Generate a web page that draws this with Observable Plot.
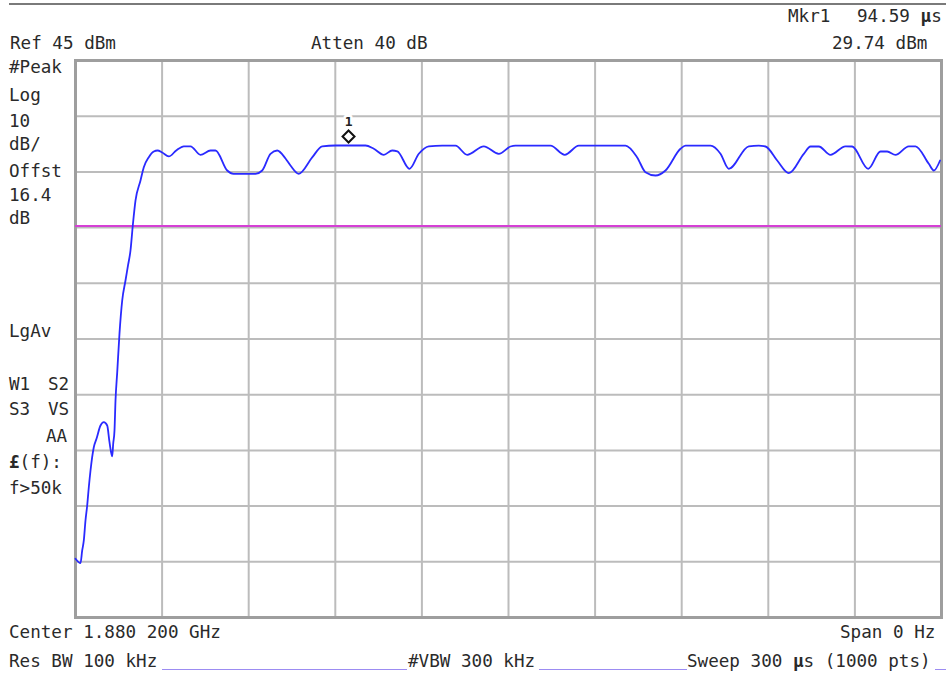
<!DOCTYPE html>
<html>
<head>
<meta charset="utf-8">
<script src="https://cdn.jsdelivr.net/npm/d3@7"></script>
<script src="https://cdn.jsdelivr.net/npm/@observablehq/plot@0.6"></script>
<style>
  html, body { margin: 0; padding: 0; background: #fff; }
  #screen { position: relative; width: 946px; height: 677px; overflow: hidden; background: #fff; }
  #screen svg { position: absolute; left: 0; top: 0; }
  .lbl { position: absolute; font-family: "DejaVu Sans Mono", monospace; font-size: 17.6px;
         line-height: 17.6px; color: #2a2a2a; white-space: pre; }
  .rule { position: absolute; height: 0; border-top: 1.5px solid #9c8cf2; }
  .topline { position: absolute; left: 9px; right: 0; top: 3px; height: 0; border-top: 2px solid #7a7a7a; }
</style>
</head>
<body>
<div id="screen"></div>
<script>
// Zero-span sweep: time (μs) against detected level (dBm)
const timeUs = [
  0, 1.73, 2.32, 2.88, 3.46, 4.05, 4.61, 5.20, 6.34, 7.27, 8.66, 9.80, 10.98, 11.78, 12.71,
  13.06, 13.51, 13.86, 14.45, 15.24, 16.18, 17.32, 18.19, 19.05, 19.85, 20.79, 22.52, 23.66,
  25.39, 27.12, 28.41, 30.03, 32.32, 35.0, 37.52, 39.84, 43.30, 46.77, 48.50, 52.55, 54.73,
  62.36, 64.68, 67.55, 69.87, 72.75, 74.48, 77.35, 82.00, 85.46, 90.07, 94.59, 100.46, 103.34,
  106.80, 109.71, 111.5, 115.71, 118.93, 122.39, 127.03, 131.64, 135.69, 141.44, 146.64, 150.69,
  152.42, 164.55, 169.50, 174.35, 190.53, 194.58, 197.46, 200.92, 204.39, 209.58, 211.32,
  219.98, 223.44, 226.32, 233.24, 236.71, 239.03, 243.08, 247.10, 252.30, 254.62, 257.49,
  261.55, 266.74, 269.06, 274.61, 278.87, 281.19, 284.06, 288.67, 290.99, 295.60, 297.33, 299.5
];
const levelDbm = [
  -44.46, -45.25, -42.97, -41.17, -37.58, -34.89, -31.61, -28.61, -24.43, -22.92, -20.53, -19.94, -20.53, -23.53, -26.09,
  -23.81, -21.43, -16.04, -11.0, -4.01, 1.91, 5.5, 8.2, 10.89, 15.38, 19.87, 23.46, 25.84,
  27.64, 28.66, 28.84, 28.48, 27.77, 28.9, 29.6, 29.6, 28.07, 28.84, 28.84, 25.25, 24.66,
  24.66, 25.25, 28.25, 28.84, 27.41, 26.15, 24.66, 27.6, 29.6, 29.74, 29.74, 29.74, 29.15,
  28.07, 28.84, 28.7, 25.56, 28.25, 29.6, 29.7, 29.7, 28.07, 29.6, 28.25, 29.56,
  29.7, 29.7, 28.07, 29.7, 29.7, 27.59, 24.95, 24.35, 25.25, 29.15, 29.7,
  29.7, 28.25, 25.56, 29.6, 29.7, 29.56, 27.05, 24.77, 28.25, 29.56, 29.56,
  28.07, 29.6, 29.56, 25.56, 28.66, 28.66, 28.07, 29.6, 29.6, 26.45, 25.25, 27.05
];

// Graticule: 10 divisions each way
const gridTimes = [0, 30, 60, 90, 120, 150, 180, 210, 240, 270, 300];
const gridLevels = [-55, -45, -35, -25, -15, -5, 5, 15, 25, 35, 45];

// Display line and marker 1
const displayLineDbm = [15.3];
const markerTime = [94.59];
const markerLevel = [29.74];
const markerName = ["1"];

// Screen annotations
const annotations = [
  { text: "Mkr1", left: 788, base: 23 },
  { html: "94.59 <b>μ</b>s", left: 857, base: 23 },
  { text: "Ref 45 dBm", left: 10, base: 50 },
  { text: "Atten 40 dB", left: 311, base: 50 },
  { text: "29.74 dBm", left: 832, base: 50 },
  { text: "#Peak", left: 9, base: 74 },
  { text: "Log", left: 9, base: 102 },
  { text: "10", left: 9, base: 128 },
  { text: "dB/", left: 9, base: 151 },
  { text: "Offst", left: 9, base: 178 },
  { text: "16.4", left: 9, base: 202 },
  { text: "dB", left: 9, base: 225 },
  { text: "LgAv", left: 9, base: 338 },
  { text: "W1", left: 9, base: 391 },
  { text: "S2", left: 48, base: 391 },
  { text: "S3", left: 9, base: 416 },
  { text: "VS", left: 48, base: 416 },
  { text: "AA", left: 46, base: 443 },
  { html: "<b>£</b>(f):", left: 9, base: 469 },
  { text: "f>50k", left: 9, base: 495 },
  { text: "Center 1.880 200 GHz", left: 9, base: 639 },
  { text: "Span 0 Hz", left: 840, base: 639 },
  { text: "Res BW 100 kHz", left: 9, base: 668 },
  { text: "#VBW 300 kHz", left: 408, base: 668 },
  { html: "Sweep 300 <b>μ</b>s (1000 pts)", left: 687, base: 668 }
];
const fieldRules = [
  { left: 162, right: 407 },
  { left: 539, right: 687 },
  { left: 935, right: 946 }
];

const trace = timeUs.map((t, i) => ({ t, level: levelDbm[i] }));
const markers = markerTime.map((t, i) => ({ t, level: markerLevel[i], name: markerName[i] }));

const chart = Plot.plot({
  width: 946,
  height: 677,
  marginLeft: 75,
  marginRight: 5,
  marginTop: 60,
  marginBottom: 60,
  x: { domain: [0, 300], axis: null },
  y: { domain: [-55, 45], axis: null },
  style: { background: "transparent", overflow: "visible" },
  marks: [
    Plot.ruleX(gridTimes, { stroke: "#bcbcbc", strokeWidth: 2 }),
    Plot.ruleY(gridLevels, { stroke: "#bcbcbc", strokeWidth: 2 }),
    Plot.frame({ stroke: "#9e9e9e", strokeWidth: 3 }),
    Plot.ruleY(displayLineDbm, { stroke: "#d53fd5", strokeWidth: 2 }),
    Plot.line(trace, { x: "t", y: "level", stroke: "#2a2aff", strokeWidth: 1.8, curve: "monotone-x" }),
    Plot.text(markers, {
      x: "t", y: "level", text: "name", dy: -24, fill: "#222", stroke: "white", strokeWidth: 5,
      fontSize: 13, fontWeight: "bold", fontFamily: "DejaVu Sans Mono"
    }),
    Plot.dot(markers, {
      x: "t", y: "level", symbol: "diamond2", r: 5.4, dy: -9,
      stroke: "#111", strokeWidth: 2, fill: "white"
    })
  ]
});

const screen = document.getElementById("screen");
screen.appendChild(chart);

const headerLine = document.createElement("div");
headerLine.className = "topline";
screen.appendChild(headerLine);

for (const a of annotations) {
  const d = document.createElement("div");
  d.className = "lbl";
  d.style.left = a.left + "px";
  d.style.top = (a.base - 15) + "px";
  if (a.html) d.innerHTML = a.html; else d.textContent = a.text;
  screen.appendChild(d);
}
for (const r of fieldRules) {
  const d = document.createElement("div");
  d.className = "rule";
  d.style.left = r.left + "px";
  d.style.width = (r.right - r.left) + "px";
  d.style.top = "669px";
  screen.appendChild(d);
}
</script>
</body>
</html>
